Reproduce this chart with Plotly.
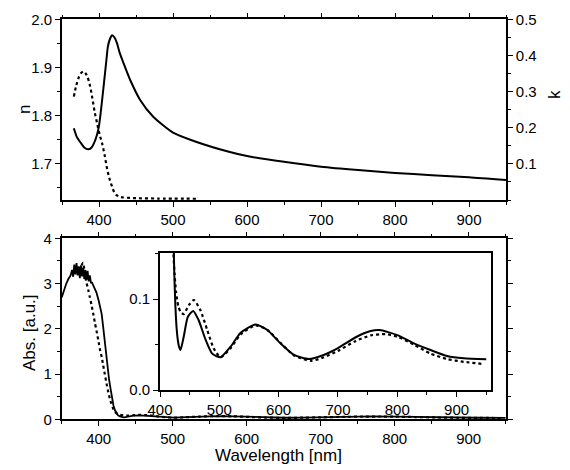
import plotly.graph_objects as go

W, H = 570, 470

# ---- top panel: refractive index n (solid) and extinction k (dotted)
wl_n = [366, 370, 375.6, 380, 385.3, 390, 393.3, 397, 400, 403, 406.7, 410, 412, 415,
        417.8, 421, 424.4, 428, 433.3, 442, 455.6, 473.3, 500, 531, 575.6, 600, 650,
        700, 750, 800, 850, 900, 950]
n_vals = [1.773, 1.755, 1.742, 1.733, 1.729, 1.733, 1.742, 1.758, 1.778, 1.815, 1.867,
          1.915, 1.943, 1.960, 1.967, 1.962, 1.950, 1.930, 1.908, 1.874, 1.832, 1.797,
          1.764, 1.745, 1.724, 1.715, 1.703, 1.693, 1.686, 1.680, 1.675, 1.671, 1.665]

wl_k = [366, 369, 373, 376, 379, 382, 384.4, 388, 391, 394, 397.8, 401, 404.4, 408, 411,
        414, 417.8, 420.5, 423.6, 428, 433, 450, 480, 531]
k_vals = [0.286, 0.315, 0.341, 0.352, 0.356, 0.350, 0.341, 0.315, 0.282, 0.245, 0.209,
          0.180, 0.155, 0.120, 0.086, 0.060, 0.036, 0.022, 0.0136, 0.009, 0.007, 0.005,
          0.004, 0.0035]

# ---- bottom panel: absorbance, measured (solid) and calculated (dotted)
wl_abs = [350, 353, 356, 359, 362, 364, 365.5, 367, 368.5, 370, 371.5, 373, 374.5, 376,
          377.5, 379, 380.5, 382, 383.5, 385, 386.5, 388, 389.5, 391, 393, 395, 397, 400,
          402, 404, 406, 408, 410, 412, 414, 416, 418, 420, 422, 424, 426, 428, 430, 432,
          434.6, 440, 447, 456, 465, 477, 488, 502, 519, 536, 561, 581, 603, 626, 651,
          676, 700, 730, 755, 770, 800, 828, 856, 884, 912, 950]
abs_meas = [2.69, 2.85, 2.99, 3.10, 3.18, 3.30, 3.15, 3.42, 3.20, 3.45, 3.18, 3.38, 3.12,
            3.40, 3.16, 3.35, 3.10, 3.30, 3.08, 3.28, 3.05, 3.18, 3.02, 3.02, 2.95, 2.88,
            2.80, 2.62, 2.48, 2.33, 2.05, 1.74, 1.40, 1.15, 0.88, 0.68, 0.47, 0.30, 0.20,
            0.13, 0.092, 0.068, 0.055, 0.048, 0.044, 0.0586, 0.0806, 0.087, 0.077, 0.055,
            0.040, 0.036, 0.0476, 0.063, 0.072, 0.066, 0.0513, 0.0385, 0.034, 0.0385,
            0.046, 0.058, 0.0648, 0.066, 0.0604, 0.0513, 0.044, 0.0374, 0.0348, 0.0337]

wl_calc = [372, 374, 376, 378, 379, 381, 383, 386, 388, 390, 393, 395, 397, 400, 402, 404,
           406, 408, 410.6, 413, 415, 417, 420, 422, 424.5, 427, 429, 431, 434.6, 440,
           448.6, 457, 468, 479.6, 490.5, 502, 519, 536, 561, 581, 603, 626, 655, 676,
           700, 730, 755, 780, 800, 828, 856, 884, 912, 945]
abs_calc = [3.30, 3.35, 3.38, 3.44, 3.46, 3.25, 3.06, 2.85, 2.70, 2.55, 2.30, 2.12, 1.96,
            1.70, 1.52, 1.38, 1.20, 1.02, 0.79, 0.60, 0.46, 0.35, 0.22, 0.16, 0.128, 0.108,
            0.099, 0.092, 0.086, 0.0835, 0.0934, 0.099, 0.088, 0.066, 0.0458, 0.036, 0.046,
            0.061, 0.071, 0.066, 0.052, 0.038, 0.032, 0.036, 0.043, 0.054, 0.060, 0.0615,
            0.0586, 0.050, 0.040, 0.034, 0.031, 0.0286]


def px_x(a, b):
    return [a / W, b / W]


def px_y(top, bottom):
    return [1 - bottom / H, 1 - top / H]


font = dict(family="Liberation Sans, Arial, sans-serif", size=15, color="black")
solid = dict(color="black", width=2, shape="spline", smoothing=0.6)
dotted = dict(color="black", width=2.2, dash="dot", shape="spline", smoothing=0.6)
minor = dict(ticklen=3, tickcolor="black", ticks="outside", tickwidth=1.2)

fig = go.Figure()
fig.add_trace(go.Scatter(x=wl_n, y=n_vals, mode="lines", line=solid, xaxis="x", yaxis="y"))
fig.add_trace(go.Scatter(x=wl_k, y=k_vals, mode="lines", line=dotted, xaxis="x", yaxis="y2"))
fig.add_trace(go.Scatter(x=wl_abs, y=abs_meas, mode="lines", line=dict(color="black", width=1.8),
                         xaxis="x2", yaxis="y3"))
fig.add_trace(go.Scatter(x=wl_calc, y=abs_calc, mode="lines", line=dotted, xaxis="x2", yaxis="y3"))
fig.add_trace(go.Scatter(x=wl_abs, y=abs_meas, mode="lines", line=solid, xaxis="x3", yaxis="y4"))
fig.add_trace(go.Scatter(x=wl_calc, y=abs_calc, mode="lines", line=dotted, xaxis="x3", yaxis="y4"))

ax = dict(showline=True, linecolor="black", linewidth=1.6, ticks="outside", ticklen=5,
          tickwidth=1.4, tickcolor="black", showgrid=False, zeroline=False,
          tickfont=font, automargin=False)

fig.update_layout(
    template="none",
    width=W, height=H, margin=dict(l=0, r=0, t=0, b=0, pad=0),
    paper_bgcolor="white", plot_bgcolor="rgba(0,0,0,0)", showlegend=False,
    xaxis=dict(ax, domain=px_x(62, 506), range=[350, 950], anchor="y", mirror="ticks",
               dtick=100, tick0=0, minor=dict(minor, dtick=50)),
    yaxis=dict(ax, domain=px_y(19.3, 200), range=[1.6235, 2.0], anchor="x",
               dtick=0.1, tick0=0, tickformat=".1f", minor=dict(minor, dtick=0.05)),
    yaxis2=dict(ax, overlaying="y", side="right", range=[0, 0.5], anchor="x",
                tickvals=[0.1, 0.2, 0.3, 0.4, 0.5], ticktext=["0.1", "0.2", "0.3", "0.4", "0.5"],
                minor=dict(minor, dtick=0.05)),
    xaxis2=dict(ax, domain=px_x(61.7, 505.7), range=[350, 950], anchor="y3", mirror="ticks",
                dtick=100, tick0=0, minor=dict(minor, dtick=50)),
    yaxis3=dict(ax, domain=px_y(238.3, 419.3), range=[0, 4], anchor="x2", mirror="ticks",
                dtick=1, minor=dict(minor, dtick=0.5)),
    xaxis3=dict(ax, domain=px_x(160, 491), range=[400, 958], anchor="y4", mirror=True,
                dtick=100, tick0=0, minor=dict(minor, dtick=50)),
    yaxis4=dict(ax, domain=px_y(252.7, 390), range=[0, 0.151], anchor="x3", mirror=True,
                dtick=0.1, tickformat=".1f", minor=dict(minor, dtick=0.05)),
)

title_font = dict(family="Liberation Sans, Arial, sans-serif", size=17, color="black")
titles = [("n", 24, 110, -90), ("k", 554, 95, -90),
          ("Abs. [a.u.]", 29, 333, -90), ("Wavelength [nm]", 278, 455, 0)]
for txt, tx, ty, ang in titles:
    fig.add_annotation(text=txt, x=tx / W, y=1 - ty / H, xref="paper", yref="paper",
                       xanchor="center", yanchor="middle", textangle=ang,
                       showarrow=False, font=title_font)

# page body margin would shift the 570x470 figure inside the window
fig.write_html("out.html", config={"displayModeBar": False},
               post_script="document.body.style.margin='0';")
